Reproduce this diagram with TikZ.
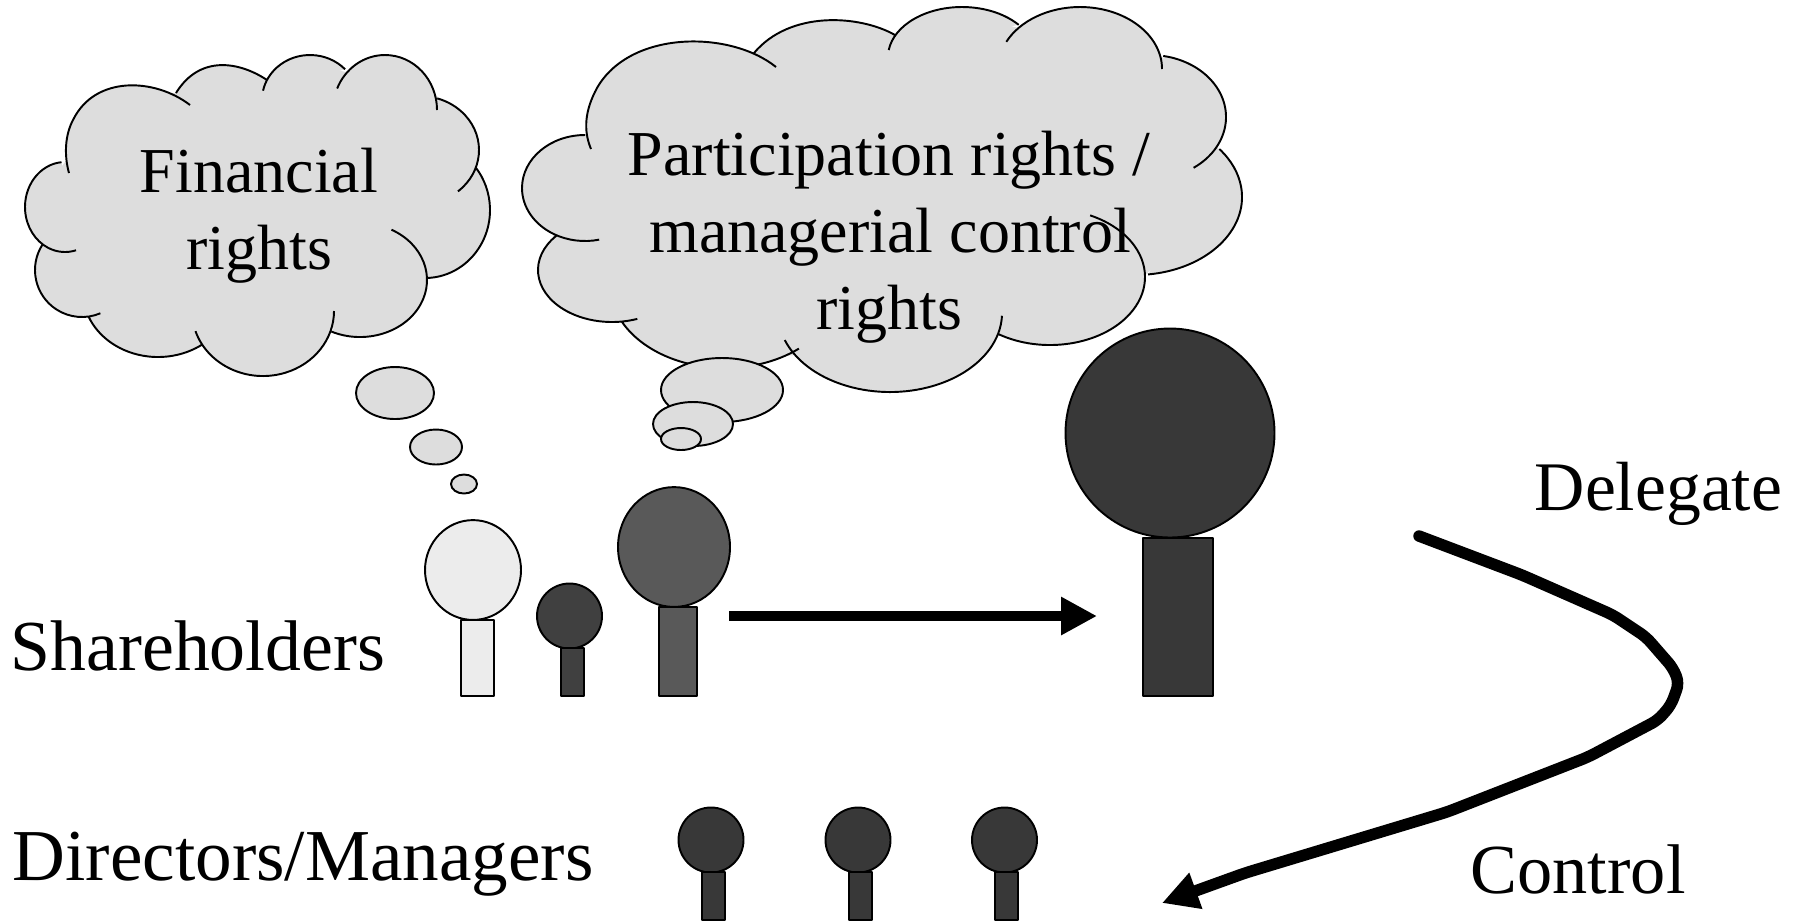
\documentclass[tikz,border=0pt]{standalone}
\usepackage{fontspec}
\setmainfont{Liberation Serif}
\usetikzlibrary{arrows.meta}
\definecolor{cloudgray}{HTML}{DDDDDD}
\definecolor{palegray}{HTML}{ECECEC}
\definecolor{midgray}{HTML}{595959}
\definecolor{smallgray}{HTML}{404040}
\definecolor{darkgray}{HTML}{383838}
\begin{document}
\begin{tikzpicture}[x=0.01cm,y=-0.01cm,>={Triangle[length=0.36cm,width=0.36cm]},line join=round,
	outline/.style={draw=black,line width=0.55pt},
	bigtext/.style={inner sep=0pt,font=\fontsize{18.2}{18.2}\selectfont,anchor=base},
	sidetext/.style={inner sep=0pt,font=\fontsize{20.4}{20.4}\selectfont,anchor=base west},
	flowline/.style={->,line width=0.115cm,line cap=round,rounded corners=2pt}]
	\useasboundingbox (0,0) rectangle (1798,923);
	\def\person#1#2#3#4#5#6#7#8{%
		\filldraw[outline,fill=#8] (#1,#2) ellipse [x radius=#3,y radius=#3*#4];
		\filldraw[outline,fill=#8] (#5,#6) rectangle (#7,696);}
	\def\lobe#1#2#3#4#5#6{({#1+#3*cos(#5)},{#2+#4*sin(#5)}) arc [start angle=#5,end angle=#6,x radius=#3,y radius=#4] }
	% left cloud
	\def\cloudleft{
		\lobe{65}{207}{40}{45}{265}{74}
		\lobe{82}{270}{47}{47}{213}{67}
		\lobe{158}{292}{75}{65}{158}{54}
		\lobe{263}{311}{71}{65}{162}{0}
		\lobe{360}{280}{67}{57}{115}{-62}
		\lobe{425}{210}{65}{68}{88}{-39}
		\lobe{420}{150}{59}{54}{50}{-73}
		\lobe{385}{110}{52}{55}{0}{-157}
		\lobe{310}{100}{48}{45}{-43}{-168}
		(267,80) .. controls (240,62) and (200,54) .. (176,93)
		(190,105) .. controls (155,78) and (95,75) .. (73,120) .. controls (65,135) and (64,155) .. (69,173)
	}
	\fill[cloudgray] (65,162) -- (32,207) -- (45,245) -- (45,290) -- (87,317) -- (145,350) -- (202,346) -- (263,370) -- (332,328) -- (400,315) -- (427,278) -- (480,225) -- (475,170) -- (472,135) -- (437,96) -- (390,60) -- (345,72) -- (305,60) -- (267,80) -- (222,68) -- (176,93) -- (105,100) -- cycle;
	\fill[cloudgray] \cloudleft;
	\draw[outline] \cloudleft;
	\filldraw[outline,fill=cloudgray] (395,393) ellipse [x radius=39,y radius=26];
	\filldraw[outline,fill=cloudgray] (436,447) ellipse [x radius=26,y radius=17.5];
	\filldraw[outline,fill=cloudgray] (464,484) ellipse [x radius=13,y radius=9.5];
	% right cloud
	\def\cloudright{
		\lobe{585}{188}{63}{53}{270}{77}
		\lobe{612}{270}{74}{52}{221}{70}
		\lobe{725}{285}{115}{83}{154}{50}
		\lobe{890}{313}{112}{79}{160}{2}
		\lobe{1050}{277}{95}{68}{123}{-65}
		\lobe{1135}{197}{107}{78}{83}{-38}
		\lobe{1150}{117}{76}{62}{55}{-80}
		\lobe{1080}{69}{82}{62}{0}{-154}
		\lobe{962}{57}{74}{50}{-40}{-172}
		(895,35) .. controls (860,15) and (790,10) .. (754,53)
		(776,67) .. controls (730,30) and (630,30) .. (597,88) .. controls (585,110) and (583,130) .. (591,149)
	}
	\fill[cloudgray] (585,135) -- (530,190) -- (553,233) -- (550,290) -- (619,322) -- (730,360) -- (796,355) -- (890,385) -- (997,335) -- (1100,325) -- (1145,275) -- (1230,200) -- (1217,143) -- (1220,115) -- (1162,57) -- (1085,15) -- (1019,28) -- (960,14) -- (895,35) -- (825,25) -- (754,53) -- (650,55) -- cycle;
	\fill[cloudgray] \cloudright;
	\draw[outline] \cloudright;
	\filldraw[outline,fill=cloudgray] (722,390) ellipse [x radius=61,y radius=32];
	\filldraw[outline,fill=cloudgray] (693,424) ellipse [x radius=40,y radius=22];
	\filldraw[outline,fill=cloudgray] (681,439) ellipse [x radius=20,y radius=11];
	% texts
	\node[bigtext] (financial) at (259,192) {Financial};
	\node[bigtext] (rightsA) at (259,269) {rights};
	\node[bigtext] (participation) at (889,175) {Participation rights /};
	\node[bigtext] (managerial) at (890,252) {managerial control};
	\node[bigtext] (rightsB) at (889,329) {rights};
	\node[sidetext] (shareholders) at (10,670) {Shareholders};
	\node[sidetext,font=\fontsize{20.8}{20.8}\selectfont] (directors) at (12,880) {Directors/Managers};
	\node[sidetext,font=\fontsize{19.8}{19.8}\selectfont] (delegate) at (1534,510) {Delegate};
	\node[sidetext,font=\fontsize{20}{20}\selectfont] (control) at (1470,893) {Control};
	% shareholders
	\person{473}{570}{48}{1.04}{461}{620}{494}{palegray}
	\person{569.5}{616}{32.5}{1}{561}{648}{584}{smallgray}
	\person{674}{547}{56}{1.07}{659}{607}{697}{midgray}
	\person{1170}{433}{104.5}{1}{1143}{538}{1213}{darkgray}
	% directors
	\foreach \xhead/\xleft in {711/702,858/849,1004.5/995}{
		\filldraw[outline,fill=darkgray] (\xhead,840) ellipse [x radius=32.5,y radius=32.5];
		\filldraw[outline,fill=darkgray] (\xleft,872) rectangle +(23,48);
	}
	% arrows
	\coordinate (giveA) at (729,616);
	\coordinate (giveB) at (1097,616);
	\coordinate (backA) at (1419,536);
	\coordinate (backB) at (1162,903);
	\draw[->,line width=0.1cm] (giveA) -- (giveB);
	\draw[flowline] (backA) -- (1522,575) -- (1613,615) -- (1646,637) -- (1673,668) -- (1679,683) -- (1671,705) -- (1658,720) -- (1588,757) -- (1447,812) -- (1245,873) -- (backB);
\end{tikzpicture}
\end{document}
